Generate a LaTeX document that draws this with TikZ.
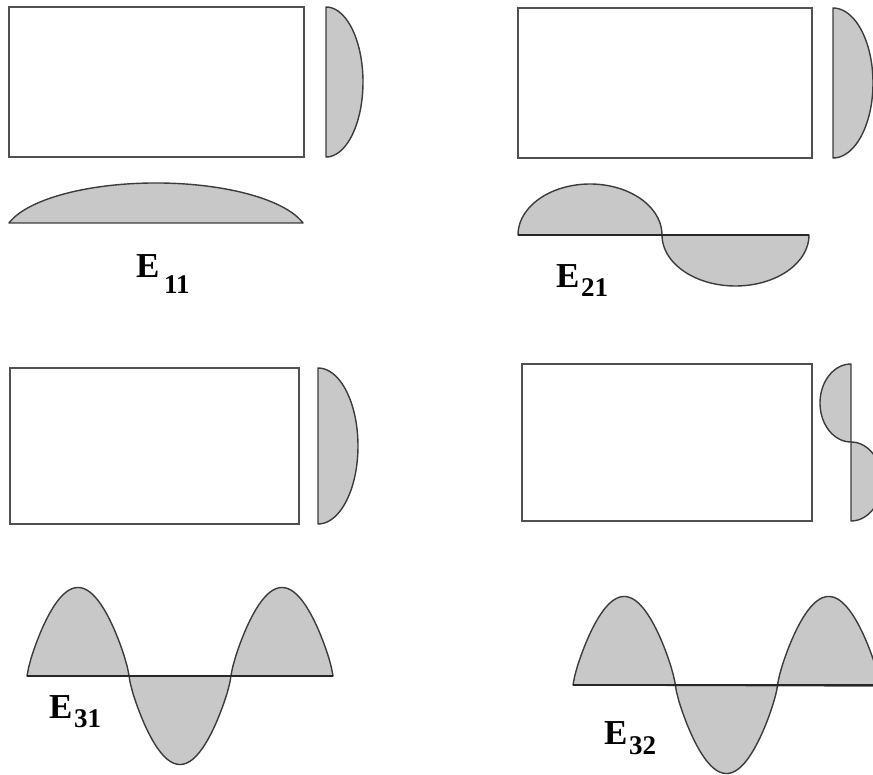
\documentclass[tikz,border=0pt]{standalone}
\usepackage{fontspec}
\setmainfont{Liberation Serif}
\definecolor{lobegray}{RGB}{200,200,200}
\definecolor{curvegray}{RGB}{60,60,60}
\definecolor{boxgray}{RGB}{80,80,80}
\begin{document}
\begin{tikzpicture}[x=1pt,y=-1pt,
  box/.style={draw=boxgray, line width=2pt},
  lobe/.style={fill=lobegray, draw=curvegray, line width=1.4pt, line join=round},
  axisline/.style={draw=black!85, line width=1.8pt},
  lab/.style={font=\fontsize{35}{35}\selectfont\bfseries, inner sep=0pt, anchor=base west},
  sublab/.style={font=\fontsize{27}{27}\selectfont\bfseries, inner sep=0pt, anchor=base west},
  declare function={wav(\t)=sign(sin(\t))*(abs(sin(\t))+0.00001)^0.78;}]
\useasboundingbox (0,0) rectangle (873,775);
\clip (0,0) rectangle (873,775);
\fill[white] (0,0) rectangle (873,775);

% ---------- E11 ----------
\draw[box] (9,7) rectangle (304,157);
\draw[lobe] plot[domain=-90:90, samples=60] ({326+37*cos(\x)},{82+75*sin(\x)}) -- cycle;
\draw[lobe] plot[domain=-75:75, samples=80] ({156+152.2*sin(\x)},{223-54*(cos(\x)-0.2588)}) -- cycle;
\node[lab] (e11) at (136,278) {E};
\node[sublab] (s11) at (164,294) {11};

% ---------- E21 ----------
\draw[box] (518,8) rectangle (812,158);
\draw[lobe] plot[domain=-90:90, samples=60] ({833+40*cos(\x)},{83+75*sin(\x)}) -- cycle;
\draw[lobe] plot[domain=180:0, samples=60] ({590+72*cos(\x)},{235-51*sin(\x)}) -- cycle;
\draw[lobe] plot[domain=180:360, samples=60] ({735.5+73.5*cos(\x)},{235-51*sin(\x)}) -- cycle;
\draw[axisline] (518,235) -- (809,235);
\node[lab] (e21) at (556,288) {E};
\node[sublab] (s21) at (581,297) {21};

% ---------- E31 ----------
\draw[box] (10,368) rectangle (299,524);
\draw[lobe] plot[domain=-90:90, samples=60] ({318+40*cos(\x)},{446+78*sin(\x)}) -- cycle;
\draw[lobe] plot[domain=27:333, samples=200] (\x,{676-88.5*wav((\x-27)/102*180)}) -- cycle;
\draw[axisline] (27,676) -- (333,676);
\node[lab] (e31) at (49,718) {E};
\node[sublab] (s31) at (74,727) {31};

% ---------- E32 ----------
\draw[box] (522,364) rectangle (812,521);
\draw[lobe] plot[domain=-90:90, samples=50] ({851-31*cos(\x)},{403+39*sin(\x)}) -- cycle;
\draw[lobe] plot[domain=-90:90, samples=50] ({851+31*cos(\x)},{481.5+39.5*sin(\x)}) -- cycle;
\draw[lobe] plot[domain=573:880, samples=200] (\x,{685-88.5*wav((\x-573)/102.3*180)}) -- cycle;
\draw[axisline] (573,685) -- (873,685);
\node[lab] (e32) at (604,744) {E};
\node[sublab] (s32) at (629,754) {32};
\end{tikzpicture}
\end{document}
